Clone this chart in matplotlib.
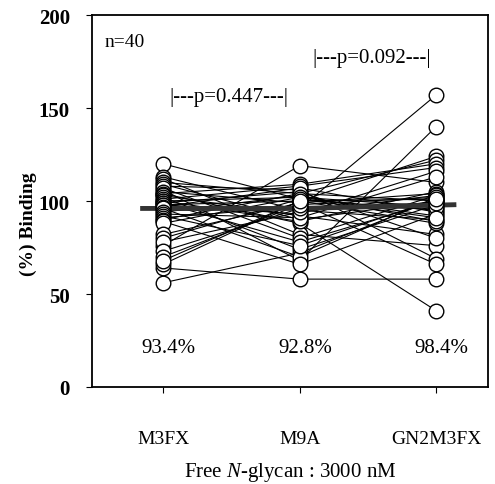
import matplotlib
matplotlib.use("Agg")
from matplotlib import pyplot as plt

plt.rcParams["font.family"] = ["Liberation Serif", "DejaVu Serif"]
plt.rcParams["mathtext.fontset"] = "custom"
plt.rcParams["mathtext.rm"] = "Liberation Serif"
plt.rcParams["mathtext.it"] = "Liberation Serif:italic"

categories = ["M3FX", "M9A", "GN2M3FX"]
means = ["93.4%", "92.8%", "98.4%"]
mean_line = [96, 96, 98]

# one entry per subject (n=40)
m3fx = [120, 56, 64, 95, 106, 76, 104, 66, 113, 112,
        110, 109, 108, 107, 105, 104, 103, 102, 101, 100,
        100, 99, 99, 98, 98, 97, 96, 94, 93, 92,
        91, 90, 89, 88, 82, 80, 78, 73, 70, 68]
m9a = [101, 72, 58, 96, 68, 119, 88, 100, 95, 82,
       104, 90, 106, 80, 99, 109, 92, 74, 108, 89,
       102, 78, 105, 93, 100, 107, 70, 103, 91, 76,
       97, 104, 66, 102, 99, 101, 94, 96, 98, 100]
gn2m3fx = [95, 101, 58, 157, 140, 110, 41, 124, 90, 76,
           122, 100, 69, 103, 66, 120, 82, 98, 118, 105,
           92, 100, 80, 116, 88, 94, 102, 89, 113, 101,
           96, 100, 93, 97, 104, 91, 103, 99, 102, 101]

fig = plt.figure(figsize=(4.95, 4.85), dpi=100)
ax = fig.add_axes([0.186, 0.2, 0.8, 0.767])

xs = range(len(categories))
for a, b, c in zip(m3fx, m9a, gn2m3fx):
    ax.plot(xs, [a, b, c], color="black", lw=0.8, zorder=2)

ax.plot([-0.15, 1, 2.13], mean_line, color="#333333", lw=3.5, zorder=3)

for i, vals in enumerate([m3fx, m9a, gn2m3fx]):
    ax.plot([i] * len(vals), vals, "o", ms=10.5, mfc="white", mec="black",
            mew=1.0, ls="none", zorder=4)

for i, t in enumerate(means):
    ax.text(i + 0.04, 21.5, t, ha="center", va="center", fontsize=15)

ax.text(-0.43, 185.5, "n=40", ha="left", va="center", fontsize=14)
ax.text(0.48, 156, "|---p=0.447---|", ha="center", va="center", fontsize=15)
ax.text(1.53, 177, "|---p=0.092---|", ha="center", va="center", fontsize=15)

ax.set_xlim(-0.52, 2.38)
ax.set_ylim(0, 200)
ax.set_yticks([0, 50, 100, 150, 200])
ax.set_xticks(list(xs))
ax.set_xticklabels(categories, fontsize=14)
for lab in ax.get_yticklabels():
    lab.set_fontsize(15)
    lab.set_fontweight("bold")
ax.tick_params(axis="y", direction="out", length=4, pad=12)
ax.tick_params(axis="x", direction="out", length=4, pad=27)

ax.set_ylabel("(%) Binding", fontsize=14, fontweight="bold")
ax.yaxis.set_label_coords(-0.14, 0.44)
ax.set_xlabel("Free $\\mathit{N}$-glycan : 3000 nM", fontsize=15, labelpad=9)

for s in ax.spines.values():
    s.set_linewidth(1.3)

fig.savefig("out.png", dpi=100)
